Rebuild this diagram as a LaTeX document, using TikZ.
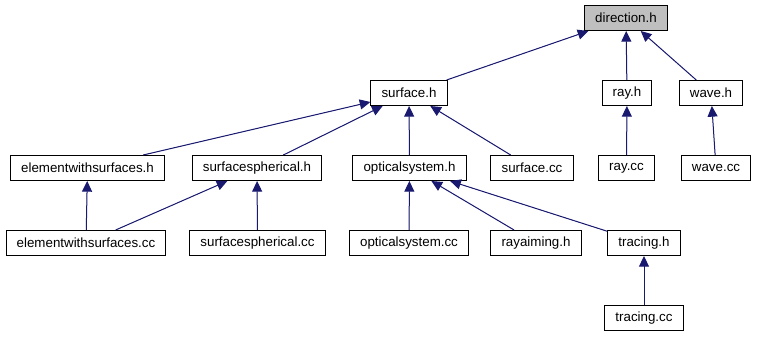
\documentclass[tikz,border=0pt]{standalone}
\usepackage{fontspec}
\setmainfont{Liberation Sans}
\usepackage{tikz}
\usetikzlibrary{arrows.meta, positioning}

\definecolor{edgeblue}{HTML}{191970}
\definecolor{rootgray}{HTML}{BFBFBF}

\tikzset{
	file/.style={draw=black, line width=0.75pt, fill=white, inner xsep=8pt,
		minimum height=18.75pt, font=\fontsize{10}{12}\selectfont},
	root/.style={file, fill=rootgray},
	dep/.style={draw=edgeblue, line width=0.75pt,
		-{Triangle[length=8pt, width=7.5pt]}, fill=edgeblue}
}

\begin{document}
\begin{tikzpicture}[x=0.75pt, y=-0.75pt]
	\useasboundingbox (0,0) rectangle (757,336);
	% headers and sources, row by row
	\node[root] (direction) at (626,18) {direction.h};
	
	\node[file] (surface) at (409,93) {surface.h};
	\node[file] (ray) at (627,93) {ray.h};
	\node[file] (wave) at (711,93) {wave.h};
	
	\node[file] (elemh) at (87.5,168) {elementwithsurfaces.h};
	\node[file] (spherh) at (257,168) {surfacespherical.h};
	\node[file] (opth) at (409.5,168) {opticalsystem.h};
	\node[file] (surfcc) at (532,168) {surface.cc};
	\node[file] (raycc) at (626.5,168) {ray.cc};
	\node[file] (wavecc) at (716,168) {wave.cc};
	
	\node[file] (elemcc) at (86,243) {elementwithsurfaces.cc};
	\node[file] (sphercc) at (257.5,243) {surfacespherical.cc};
	\node[file] (optcc) at (409,243) {opticalsystem.cc};
	\node[file] (rayaim) at (536,243) {rayaiming.h};
	\node[file] (tracing) at (644,243) {tracing.h};
	
	\node[file] (tracingcc) at (644,318) {tracing.cc};
	
	% who includes whom
	\foreach \from/\to in {surface/direction, ray/direction, wave/direction,
		elemh/surface, spherh/surface, opth/surface, surfcc/surface,
		raycc/ray, wavecc/wave,
		elemcc/elemh, elemcc/spherh, sphercc/spherh,
		optcc/opth, rayaim/opth, tracing/opth,
		tracingcc/tracing}
		\draw[dep] (\from) -- (\to);
\end{tikzpicture}
\end{document}
